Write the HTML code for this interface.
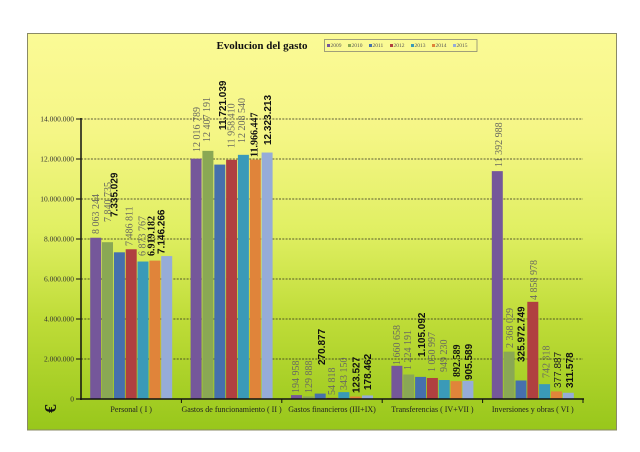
<!DOCTYPE html>
<html><head><meta charset="utf-8"><style>
html,body{margin:0;padding:0;background:#fff;}
svg{display:block;}
.g{font-family:"Liberation Serif",serif;font-size:10px;fill:#6a6a60;}
.b{font-family:"Liberation Sans",sans-serif;font-size:10px;font-weight:bold;fill:#111;}
.bs{font-family:"Liberation Serif",serif;font-size:10px;font-weight:bold;fill:#111;}
.n{font-family:"Liberation Sans",sans-serif;font-size:10px;fill:#222;}
.ax{font-family:"Liberation Serif",serif;font-size:7.5px;fill:#333;}
.cat{font-family:"Liberation Serif",serif;font-size:8px;fill:#222;}
.lg{font-family:"Liberation Serif",serif;font-size:5.5px;fill:#555;}
</style></head><body>
<svg width="640" height="452" viewBox="0 0 640 452" xmlns="http://www.w3.org/2000/svg">
<defs>
<linearGradient id="bg" x1="0" y1="0" x2="0" y2="1">
<stop offset="0" stop-color="#fbfa96"/>
<stop offset="0.25" stop-color="#f5f686"/>
<stop offset="0.5" stop-color="#e0ef62"/>
<stop offset="0.72" stop-color="#bfdc38"/>
<stop offset="1" stop-color="#98c71b"/>
</linearGradient>
</defs>
<rect x="0" y="0" width="640" height="452" fill="#fff"/>
<rect x="27.5" y="33.5" width="589" height="396.5" fill="url(#bg)" stroke="#8a8a66" stroke-width="1"/>

<!-- title -->
<text x="262" y="49" text-anchor="middle" style="font-family:'Liberation Serif',serif;font-size:11px;font-weight:bold;fill:#111">Evolucion del gasto</text>

<!-- legend -->
<rect x="324.5" y="39.5" width="152.5" height="12" fill="none" stroke="#7a7a70" stroke-width="0.7"/>
<g>
<rect x="327" y="44" width="3" height="3" fill="#75579a"/><text class="lg" x="330.5" y="47.2">2009</text>
<rect x="348" y="44" width="3" height="3" fill="#8aa854"/><text class="lg" x="351.5" y="47.2">2010</text>
<rect x="369" y="44" width="3" height="3" fill="#4670ad"/><text class="lg" x="372.5" y="47.2">2011</text>
<rect x="390" y="44" width="3" height="3" fill="#b04040"/><text class="lg" x="393.5" y="47.2">2012</text>
<rect x="411" y="44" width="3" height="3" fill="#3a9ab8"/><text class="lg" x="414.5" y="47.2">2013</text>
<rect x="432" y="44" width="3" height="3" fill="#e0843a"/><text class="lg" x="435.5" y="47.2">2014</text>
<rect x="453" y="44" width="3" height="3" fill="#96acd8"/><text class="lg" x="456.5" y="47.2">2015</text>
</g>

<!-- gridlines -->
<g stroke="#2a2a20" stroke-width="0.8" stroke-dasharray="2 1.3">
<line x1="81" y1="119" x2="583" y2="119"/>
<line x1="81" y1="159" x2="583" y2="159"/>
<line x1="81" y1="199" x2="583" y2="199"/>
<line x1="81" y1="239" x2="583" y2="239"/>
<line x1="81" y1="279" x2="583" y2="279"/>
<line x1="81" y1="319" x2="583" y2="319"/>
<line x1="81" y1="359" x2="583" y2="359"/>
</g>

<!-- y axis labels -->
<g text-anchor="end">
<text class="ax" x="74" y="121.5">14.000.000</text>
<text class="ax" x="74" y="161.5">12.000.000</text>
<text class="ax" x="74" y="201.5">10.000.000</text>
<text class="ax" x="74" y="241.5">8.000.000</text>
<text class="ax" x="74" y="281.5">6.000.000</text>
<text class="ax" x="74" y="321.5">4.000.000</text>
<text class="ax" x="74" y="361.5">2.000.000</text>
<text class="ax" x="74" y="401.5">0</text>
</g>

<!-- bars -->
<g>
<!-- cat1 start 89.8 -->
<rect x="90.2" y="237.74" width="11" height="161.26" fill="#75579a"/>
<rect x="102.0" y="242.19" width="11" height="156.81" fill="#8aa854"/>
<rect x="113.9" y="252.30" width="11" height="146.70" fill="#4670ad"/>
<rect x="125.7" y="249.26" width="11" height="149.74" fill="#b04040"/>
<rect x="137.5" y="261.52" width="11" height="137.48" fill="#3a9ab8"/>
<rect x="149.4" y="260.62" width="11" height="138.38" fill="#e0843a"/>
<rect x="161.2" y="256.07" width="11" height="142.93" fill="#96acd8"/>
<!-- cat2 start 190.2 -->
<rect x="190.6" y="158.66" width="11" height="240.34" fill="#75579a"/>
<rect x="202.4" y="150.86" width="11" height="248.14" fill="#8aa854"/>
<rect x="214.3" y="164.58" width="11" height="234.42" fill="#4670ad"/>
<rect x="226.1" y="159.83" width="11" height="239.17" fill="#b04040"/>
<rect x="237.9" y="154.83" width="11" height="244.17" fill="#3a9ab8"/>
<rect x="249.8" y="159.67" width="11" height="239.33" fill="#e0843a"/>
<rect x="261.6" y="152.54" width="11" height="246.46" fill="#96acd8"/>
<!-- cat3 start 290.6 -->
<rect x="291.0" y="395.10" width="11" height="3.90" fill="#75579a"/>
<rect x="302.8" y="396.40" width="11" height="2.60" fill="#8aa854"/>
<rect x="314.7" y="393.58" width="11" height="5.42" fill="#4670ad"/>
<rect x="326.5" y="397.90" width="11" height="1.10" fill="#b04040"/>
<rect x="338.3" y="392.14" width="11" height="6.86" fill="#3a9ab8"/>
<rect x="350.2" y="396.53" width="11" height="2.47" fill="#e0843a"/>
<rect x="362.0" y="395.43" width="11" height="3.57" fill="#96acd8"/>
<!-- cat4 start 391.0 -->
<rect x="391.4" y="365.79" width="11" height="33.21" fill="#75579a"/>
<rect x="403.2" y="374.52" width="11" height="24.48" fill="#8aa854"/>
<rect x="415.1" y="376.90" width="11" height="22.10" fill="#4670ad"/>
<rect x="426.9" y="377.98" width="11" height="21.02" fill="#b04040"/>
<rect x="438.7" y="380.02" width="11" height="18.98" fill="#3a9ab8"/>
<rect x="450.6" y="381.15" width="11" height="17.85" fill="#e0843a"/>
<rect x="462.4" y="380.89" width="11" height="18.11" fill="#96acd8"/>
<!-- cat5 start 491.4 -->
<rect x="491.8" y="171.14" width="11" height="227.86" fill="#75579a"/>
<rect x="503.6" y="351.64" width="11" height="47.36" fill="#8aa854"/>
<rect x="515.5" y="380.48" width="11" height="18.52" fill="#4670ad"/>
<rect x="527.3" y="301.82" width="11" height="97.18" fill="#b04040"/>
<rect x="539.1" y="384.15" width="11" height="14.85" fill="#3a9ab8"/>
<rect x="551.0" y="391.44" width="11" height="7.56" fill="#e0843a"/>
<rect x="562.8" y="392.77" width="11" height="6.23" fill="#96acd8"/>
</g>

<!-- axes -->
<line x1="81" y1="118" x2="81" y2="400" stroke="#111" stroke-width="1.5"/>
<line x1="80" y1="399" x2="584" y2="399" stroke="#111" stroke-width="1.5"/>
<g stroke="#111" stroke-width="1">
<line x1="76" y1="119" x2="81" y2="119"/>
<line x1="76" y1="159" x2="81" y2="159"/>
<line x1="76" y1="199" x2="81" y2="199"/>
<line x1="76" y1="239" x2="81" y2="239"/>
<line x1="76" y1="279" x2="81" y2="279"/>
<line x1="76" y1="319" x2="81" y2="319"/>
<line x1="76" y1="359" x2="81" y2="359"/>
<line x1="76" y1="399" x2="81" y2="399"/>
<line x1="181.4" y1="399" x2="181.4" y2="403"/>
<line x1="281.8" y1="399" x2="281.8" y2="403"/>
<line x1="382.2" y1="399" x2="382.2" y2="403"/>
<line x1="482.6" y1="399" x2="482.6" y2="403"/>
<line x1="583" y1="399" x2="583" y2="403"/>
</g>

<!-- category labels -->
<g text-anchor="middle">
<text class="cat" x="131.2" y="412">Personal ( I )</text>
<text class="cat" x="231.6" y="412">Gastos de funcionamiento ( II )</text>
<text class="cat" x="332" y="412">Gastos financieros (III+IX)</text>
<text class="cat" x="432.4" y="412">Transferencias ( IV+VII )</text>
<text class="cat" x="532.8" y="412">Inversiones y obras ( VI )</text>
</g>

<!-- euro -->
<text transform="translate(56,413) rotate(-90)" style="font-family:'Liberation Serif',serif;font-size:17px;font-weight:bold;fill:#111">€</text>

<!-- data labels -->
<g>
<text class="g" transform="translate(95.3,234) rotate(-90)" dy="0.35em">8 063 244</text>
<text class="g" transform="translate(107.7,222) rotate(-90)" dy="0.35em">7 840 735</text>
<text class="b" transform="translate(114,217) rotate(-90)" dy="0.35em">7.335.029</text>
<text class="g" transform="translate(129,246) rotate(-90)" dy="0.35em">7 486 811</text>
<text class="g" transform="translate(142,256) rotate(-90)" dy="0.35em">6 873 767</text>
<text class="bs" transform="translate(151,256) rotate(-90)" dy="0.35em">6.919.182</text>
<text class="b" transform="translate(161,254) rotate(-90)" dy="0.35em">7.146.266</text>

<text class="g" transform="translate(196.7,152) rotate(-90)" dy="0.35em">12 016 789</text>
<text class="g" transform="translate(206.7,142) rotate(-90)" dy="0.35em">12 407 191</text>
<text class="b" transform="translate(222.7,130) rotate(-90)" dy="0.35em">11.721.039</text>
<text class="g" transform="translate(231,148) rotate(-90)" dy="0.35em">11 958 410</text>
<text class="g" transform="translate(241.7,143) rotate(-90)" dy="0.35em">12 208 540</text>
<text class="bs" transform="translate(254,157) rotate(-90)" dy="0.35em">11.966.447</text>
<text class="b" transform="translate(267.3,145) rotate(-90)" dy="0.35em">12.323.213</text>

<text class="g" transform="translate(295.7,393) rotate(-90)" dy="0.35em">194 958</text>
<text class="g" transform="translate(308.3,393) rotate(-90)" dy="0.35em">129 888</text>
<text class="b" transform="translate(321.7,365) rotate(-90)" dy="0.35em">270.877</text>
<text class="g" transform="translate(331.7,395) rotate(-90)" dy="0.35em">54 818</text>
<text class="g" transform="translate(343.3,390) rotate(-90)" dy="0.35em">343 150</text>
<text class="b" transform="translate(356,393) rotate(-90)" dy="0.35em">123.527</text>
<text class="b" transform="translate(367.3,390) rotate(-90)" dy="0.35em">178.462</text>

<text class="g" transform="translate(396.7,365) rotate(-90)" dy="0.35em">1 660 658</text>
<text class="g" transform="translate(407.7,370) rotate(-90)" dy="0.35em">1 224 191</text>
<text class="b" transform="translate(421.7,357) rotate(-90)" dy="0.35em">1.105.092</text>
<text class="g" transform="translate(431.7,372) rotate(-90)" dy="0.35em">1 050 997</text>
<text class="g" transform="translate(443.3,372) rotate(-90)" dy="0.35em">949 230</text>
<text class="bs" transform="translate(456.7,377) rotate(-90)" dy="0.35em">892.589</text>
<text class="b" transform="translate(468.3,380) rotate(-90)" dy="0.35em">905.589</text>

<text class="g" transform="translate(498.3,167) rotate(-90)" dy="0.35em">11 392 988</text>
<text class="g" transform="translate(509.3,348) rotate(-90)" dy="0.35em">2 368 029</text>
<text class="b" transform="translate(521,362) rotate(-90)" dy="0.35em">325.972.749</text>
<text class="g" transform="translate(533.3,300) rotate(-90)" dy="0.35em">4 858 978</text>
<text class="g" transform="translate(546,378) rotate(-90)" dy="0.35em">742 318</text>
<text class="n" transform="translate(557.7,388) rotate(-90)" dy="0.35em">377.887</text>
<text class="b" transform="translate(569.3,388) rotate(-90)" dy="0.35em">311.578</text>
</g>
</svg>
</body></html>
